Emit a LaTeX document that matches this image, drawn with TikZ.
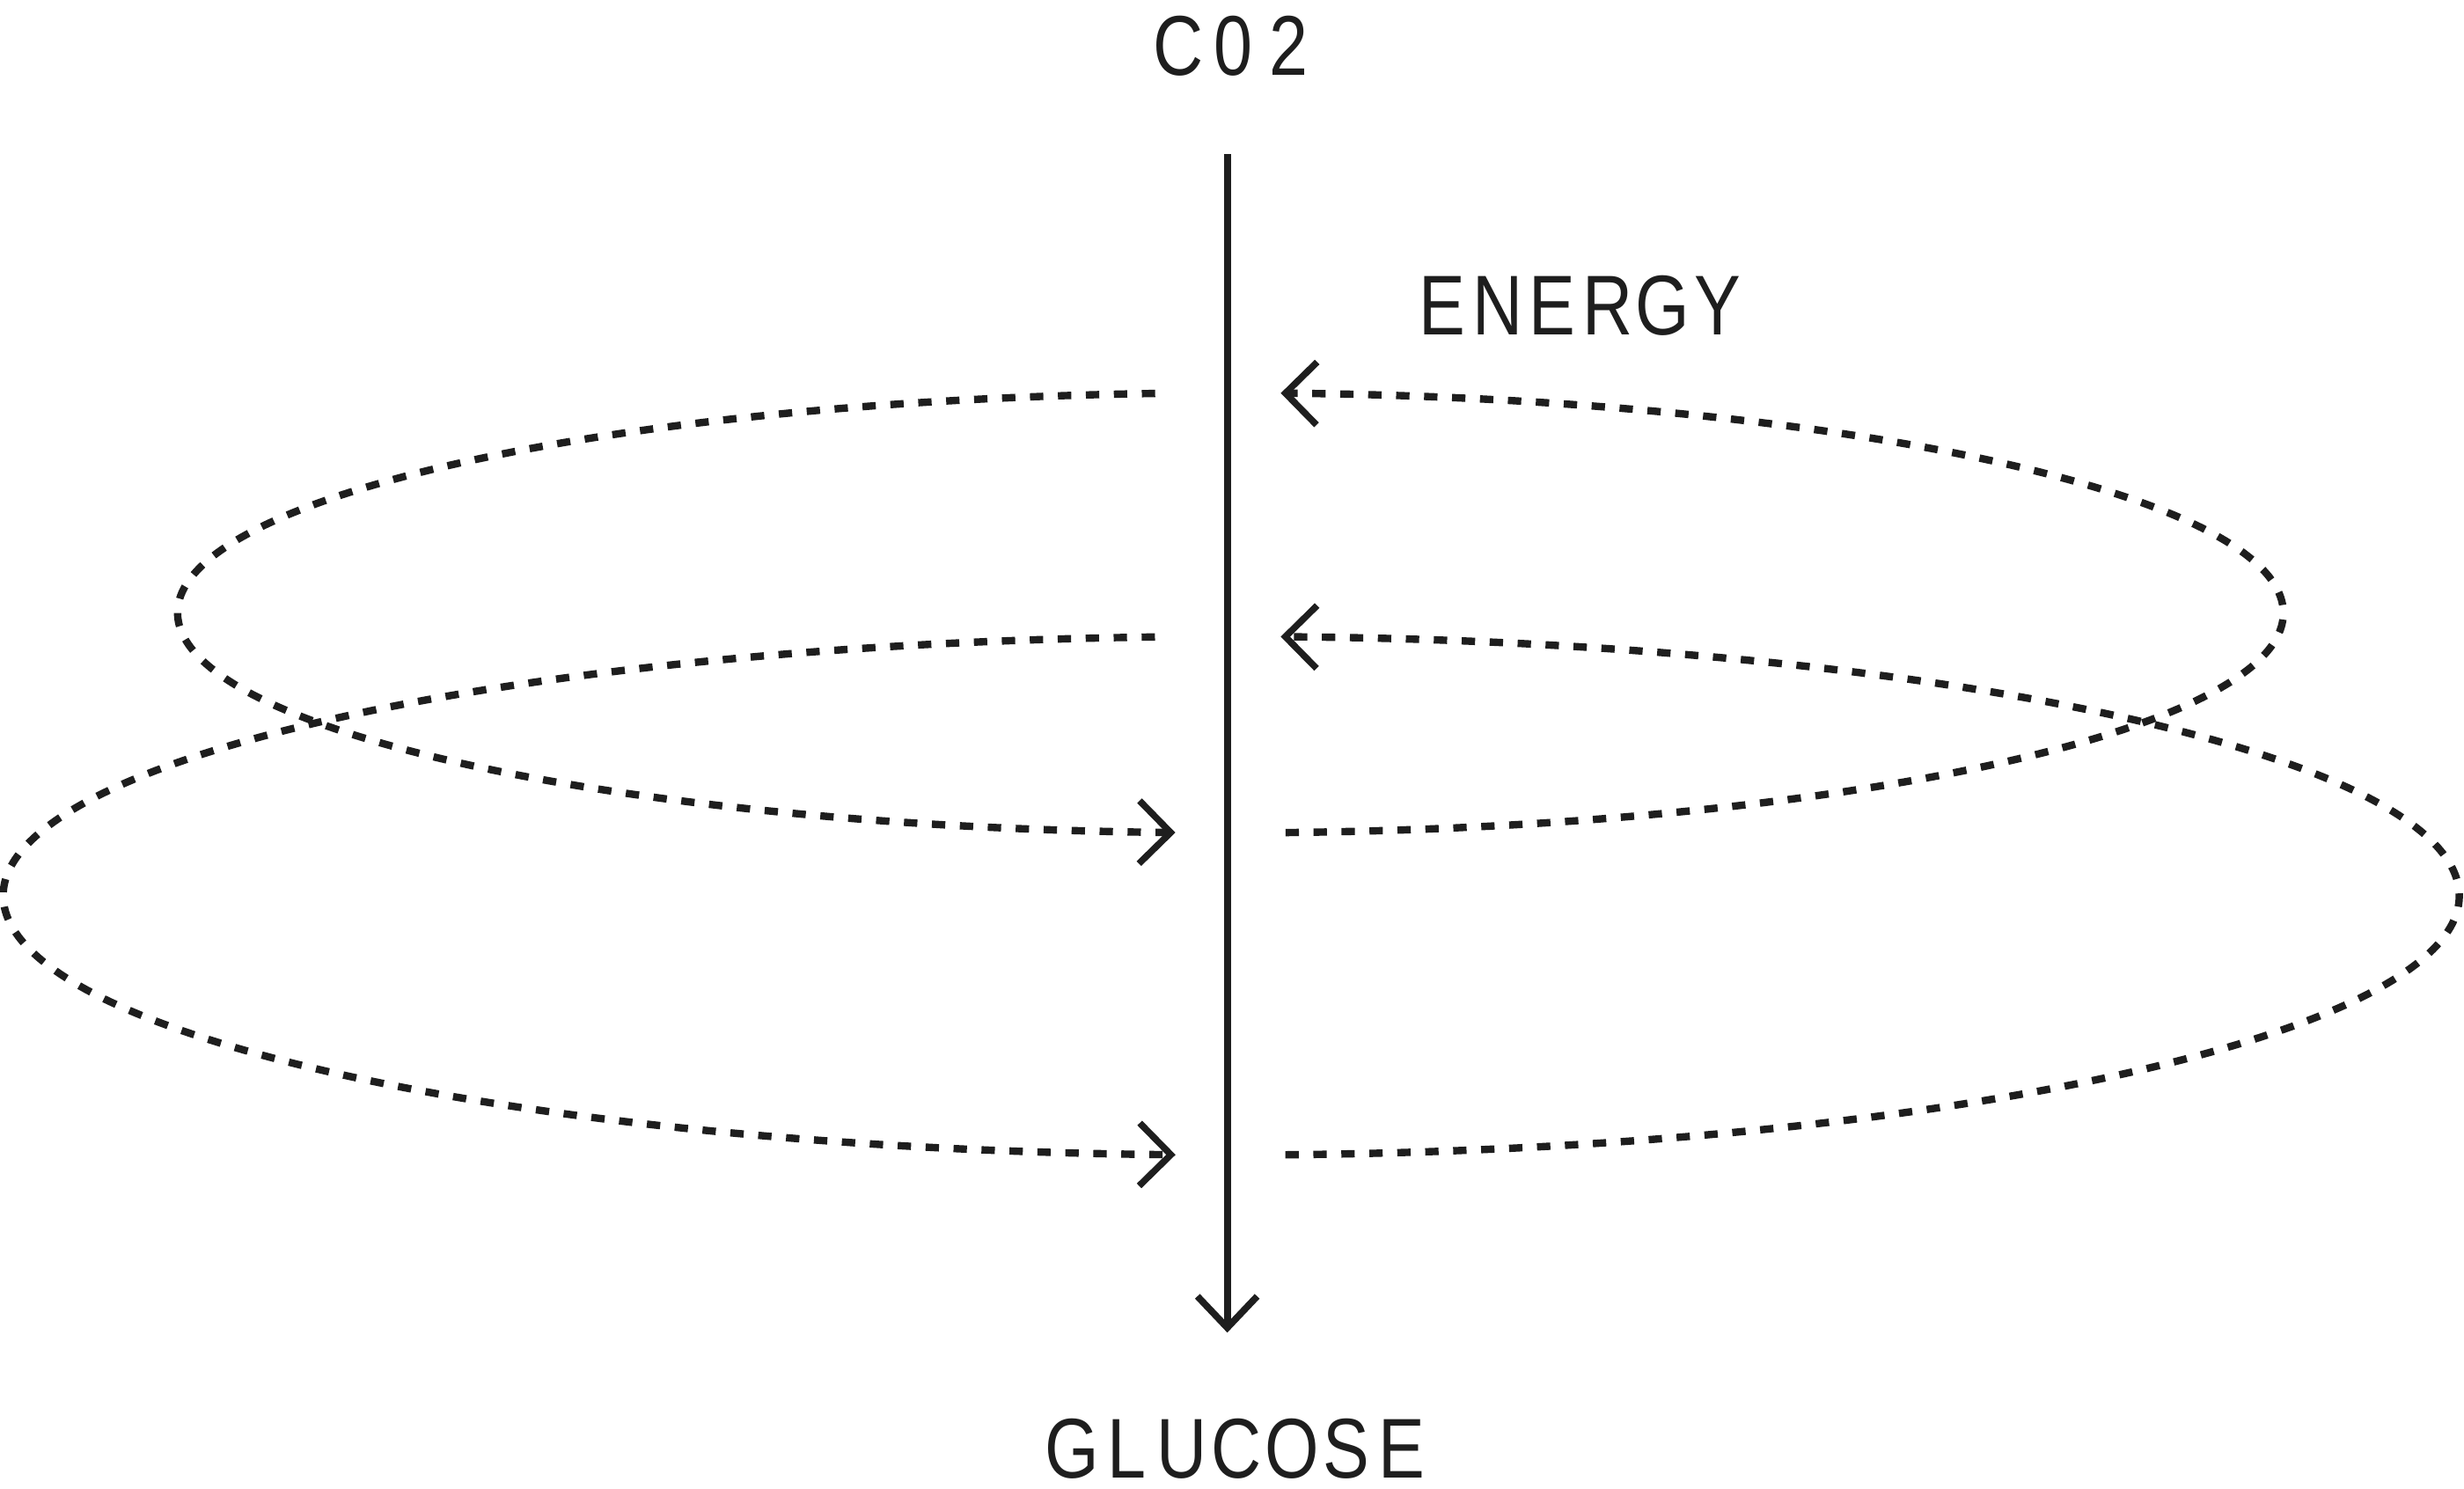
\documentclass[tikz,border=0pt]{standalone}
\usepackage{fontspec}
\newfontfamily\labfont[FakeStretch=0.82]{Liberation Sans}
\usetikzlibrary{arrows.meta}
\definecolor{ink}{RGB}{30,30,30}
\newcommand\lc[1]{\makebox[35pt][c]{#1}}
\begin{document}
\begin{tikzpicture}[x=1pt,y=-1pt,
  lab/.style={font=\labfont\fontsize{54}{60}\selectfont, text=ink, inner sep=0pt, anchor=base},
  flow/.style={draw=ink, line width=4.7pt, dash pattern=on 8.5pt off 9.3pt,
    -{Straight Barb[length=20pt,width=40pt,line width=4.2pt]}},
  mainarrow/.style={draw=ink, line width=4.3pt,
    -{Straight Barb[length=20pt,width=38pt]}}]
\useasboundingbox (0,0) rectangle (1568,947.5);
\fill[white] (0,0) rectangle (1568,947.5);
% labels
\node[lab] (co2) at (785,47.6) {\lc{C}\lc{0}\lc{2}};
\node[lab] (energy) at (1005.5,213) {\lc{E}\lc{N}\lc{E}\lc{R}\lc{G}\lc{Y}};
\node[lab] (glucose) at (787,940.5) {\lc{G}\lc{L}\lc{U}\lc{C}\lc{O}\lc{S}\lc{E}};
% main axis
\coordinate (axtop) at (781,98);
\coordinate (axbot) at (781,848);
\draw[mainarrow] (axtop) -- (axbot);
% ellipse centres
\coordinate (e1) at (783,390);
\coordinate (e2) at (783.5,570);
% upper loop
\draw[flow] (e1) ++(265.9:670 and 140) arc[start angle=265.9, end angle=93.0, x radius=670, y radius=140];
\draw[flow] (e1) ++(87.0:670 and 140) arc[start angle=87.0, end angle=-87.26, x radius=670, y radius=140];
% lower loop
\draw[flow] (e2) ++(266.44:781.5 and 165) arc[start angle=266.44, end angle=92.6, x radius=781.5, y radius=165];
\draw[flow] (e2) ++(87.47:781.5 and 165) arc[start angle=87.47, end angle=-87.69, x radius=781.5, y radius=165];
\end{tikzpicture}
\end{document}
